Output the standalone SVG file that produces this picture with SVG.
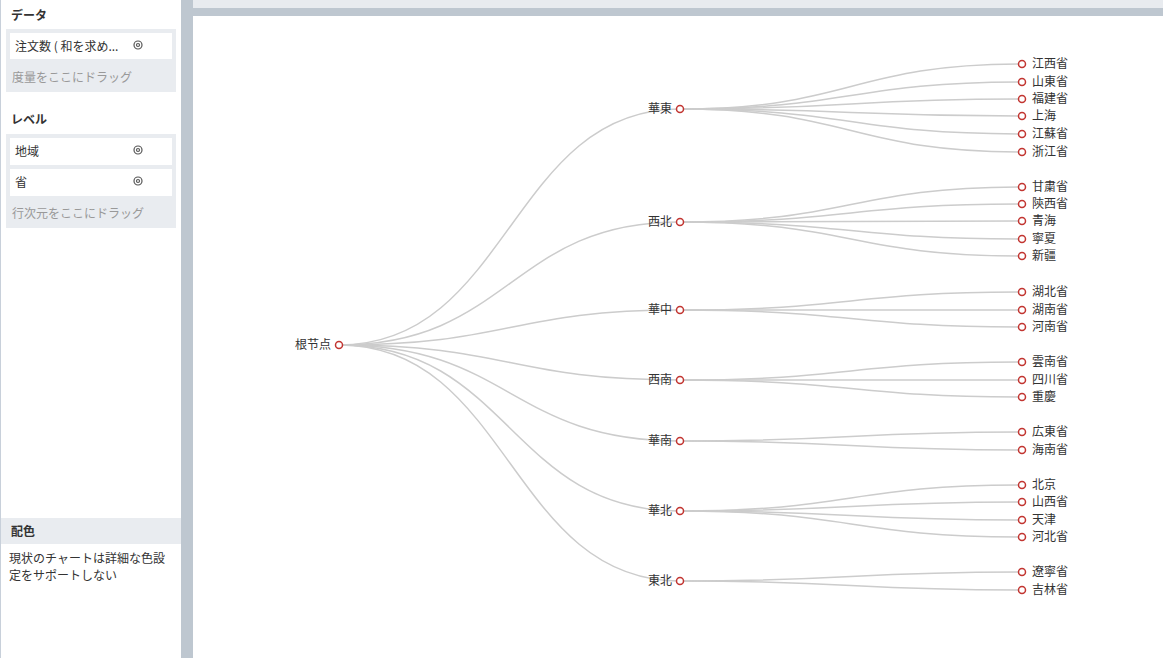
<svg xmlns="http://www.w3.org/2000/svg" width="1163" height="658" viewBox="0 0 1163 658">
<style>
text{font-family:"Noto Sans CJK JP","Liberation Sans",sans-serif;font-size:12px;fill:#333}
.h{font-weight:bold;font-size:12px;fill:#333}
.ph{fill:#999}
.box{fill:#e9ecf0}
.item{fill:#fff}
.l{fill:none;stroke:#ccc;stroke-width:1.5}
.n{fill:#fff;stroke:#c23531;stroke-width:1.5}
.rl{text-anchor:end}
.gear{fill:none;stroke:#555;stroke-width:1.2}
</style>
<rect width="1163" height="658" fill="#fff"/>
<rect x="0" y="0" width="1" height="658" fill="#c8d0da"/>
<rect x="181" y="0" width="12" height="658" fill="#bec7d0"/>
<rect x="193" y="0" width="970" height="8" fill="#e8ebef"/>
<rect x="193" y="8" width="970" height="8" fill="#bec7d0"/>
<g id="panel">
<text class="h" x="11" y="20">データ</text>
<rect class="box" x="6" y="29" width="170" height="63"/>
<rect class="item" x="10" y="33" width="162" height="26"/>
<text x="15" y="51">注文数 ( 和を求め...</text>
<circle class="gear" cx="138" cy="45" r="4"/><circle class="gear" cx="138" cy="45" r="1.5"/>
<text class="ph" x="12" y="82">度量をここにドラッグ</text>
<text class="h" x="11" y="124">レベル</text>
<rect class="box" x="6" y="134" width="170" height="94"/>
<rect class="item" x="10" y="138" width="162" height="27"/>
<text x="15" y="156">地域</text>
<circle class="gear" cx="138" cy="150" r="4"/><circle class="gear" cx="138" cy="150" r="1.5"/>
<rect class="item" x="10" y="169" width="162" height="27"/>
<text x="15" y="187">省</text>
<circle class="gear" cx="138" cy="181" r="4"/><circle class="gear" cx="138" cy="181" r="1.5"/>
<text class="ph" x="12" y="218">行次元をここにドラッグ</text>
<rect class="box" x="1" y="518" width="180" height="26"/>
<text class="h" x="11" y="536">配色</text>
<text x="9" y="563">現状のチャートは詳細な色設</text>
<text x="9" y="580">定をサポートしない</text>
</g>
<g id="connectors">
<path class="l" d="M339 345C510 345 510 109 680 109"/>
<path class="l" d="M339 345C510 345 510 222 680 222"/>
<path class="l" d="M339 345C510 345 510 310 680 310"/>
<path class="l" d="M339 345C510 345 510 380 680 380"/>
<path class="l" d="M339 345C510 345 510 441 680 441"/>
<path class="l" d="M339 345C510 345 510 511 680 511"/>
<path class="l" d="M339 345C510 345 510 581 680 581"/>
<path class="l" d="M680 109C851 109 851 64 1022 64"/>
<path class="l" d="M680 109C851 109 851 82 1022 82"/>
<path class="l" d="M680 109C851 109 851 99 1022 99"/>
<path class="l" d="M680 109C851 109 851 116 1022 116"/>
<path class="l" d="M680 109C851 109 851 134 1022 134"/>
<path class="l" d="M680 109C851 109 851 152 1022 152"/>
<path class="l" d="M680 222C851 222 851 187 1022 187"/>
<path class="l" d="M680 222C851 222 851 204 1022 204"/>
<path class="l" d="M680 222C851 222 851 221 1022 221"/>
<path class="l" d="M680 222C851 222 851 239 1022 239"/>
<path class="l" d="M680 222C851 222 851 256 1022 256"/>
<path class="l" d="M680 310C851 310 851 292 1022 292"/>
<path class="l" d="M680 310C851 310 851 310 1022 310"/>
<path class="l" d="M680 310C851 310 851 327 1022 327"/>
<path class="l" d="M680 380C851 380 851 362 1022 362"/>
<path class="l" d="M680 380C851 380 851 380 1022 380"/>
<path class="l" d="M680 380C851 380 851 397 1022 397"/>
<path class="l" d="M680 441C851 441 851 432 1022 432"/>
<path class="l" d="M680 441C851 441 851 450 1022 450"/>
<path class="l" d="M680 511C851 511 851 485 1022 485"/>
<path class="l" d="M680 511C851 511 851 502 1022 502"/>
<path class="l" d="M680 511C851 511 851 520 1022 520"/>
<path class="l" d="M680 511C851 511 851 537 1022 537"/>
<path class="l" d="M680 581C851 581 851 572 1022 572"/>
<path class="l" d="M680 581C851 581 851 590 1022 590"/>
</g>
<g id="root"><circle class="n" cx="339" cy="345" r="3.5"/><text class="rl" x="331" y="349">根节点</text></g>
<g id="r-huadong"><circle class="n" cx="680" cy="109" r="3.5"/><text class="rl" x="672" y="113">華東</text></g>
<g id="r-xibei"><circle class="n" cx="680" cy="222" r="3.5"/><text class="rl" x="672" y="226">西北</text></g>
<g id="r-huazhong"><circle class="n" cx="680" cy="310" r="3.5"/><text class="rl" x="672" y="314">華中</text></g>
<g id="r-xinan"><circle class="n" cx="680" cy="380" r="3.5"/><text class="rl" x="672" y="384">西南</text></g>
<g id="r-huanan"><circle class="n" cx="680" cy="441" r="3.5"/><text class="rl" x="672" y="445">華南</text></g>
<g id="r-huabei"><circle class="n" cx="680" cy="511" r="3.5"/><text class="rl" x="672" y="515">華北</text></g>
<g id="r-dongbei"><circle class="n" cx="680" cy="581" r="3.5"/><text class="rl" x="672" y="585">東北</text></g>
<g id="leaves">
<g id="l1"><circle class="n" cx="1022" cy="64" r="3.5"/><text x="1032" y="68">江西省</text></g>
<g id="l2"><circle class="n" cx="1022" cy="82" r="3.5"/><text x="1032" y="86">山東省</text></g>
<g id="l3"><circle class="n" cx="1022" cy="99" r="3.5"/><text x="1032" y="103">福建省</text></g>
<g id="l4"><circle class="n" cx="1022" cy="116" r="3.5"/><text x="1032" y="120">上海</text></g>
<g id="l5"><circle class="n" cx="1022" cy="134" r="3.5"/><text x="1032" y="138">江蘇省</text></g>
<g id="l6"><circle class="n" cx="1022" cy="152" r="3.5"/><text x="1032" y="156">浙江省</text></g>
<g id="l7"><circle class="n" cx="1022" cy="187" r="3.5"/><text x="1032" y="191">甘粛省</text></g>
<g id="l8"><circle class="n" cx="1022" cy="204" r="3.5"/><text x="1032" y="208">陝西省</text></g>
<g id="l9"><circle class="n" cx="1022" cy="221" r="3.5"/><text x="1032" y="225">青海</text></g>
<g id="l10"><circle class="n" cx="1022" cy="239" r="3.5"/><text x="1032" y="243">寧夏</text></g>
<g id="l11"><circle class="n" cx="1022" cy="256" r="3.5"/><text x="1032" y="260">新疆</text></g>
<g id="l12"><circle class="n" cx="1022" cy="292" r="3.5"/><text x="1032" y="296">湖北省</text></g>
<g id="l13"><circle class="n" cx="1022" cy="310" r="3.5"/><text x="1032" y="314">湖南省</text></g>
<g id="l14"><circle class="n" cx="1022" cy="327" r="3.5"/><text x="1032" y="331">河南省</text></g>
<g id="l15"><circle class="n" cx="1022" cy="362" r="3.5"/><text x="1032" y="366">雲南省</text></g>
<g id="l16"><circle class="n" cx="1022" cy="380" r="3.5"/><text x="1032" y="384">四川省</text></g>
<g id="l17"><circle class="n" cx="1022" cy="397" r="3.5"/><text x="1032" y="401">重慶</text></g>
<g id="l18"><circle class="n" cx="1022" cy="432" r="3.5"/><text x="1032" y="436">広東省</text></g>
<g id="l19"><circle class="n" cx="1022" cy="450" r="3.5"/><text x="1032" y="454">海南省</text></g>
<g id="l20"><circle class="n" cx="1022" cy="485" r="3.5"/><text x="1032" y="489">北京</text></g>
<g id="l21"><circle class="n" cx="1022" cy="502" r="3.5"/><text x="1032" y="506">山西省</text></g>
<g id="l22"><circle class="n" cx="1022" cy="520" r="3.5"/><text x="1032" y="524">天津</text></g>
<g id="l23"><circle class="n" cx="1022" cy="537" r="3.5"/><text x="1032" y="541">河北省</text></g>
<g id="l24"><circle class="n" cx="1022" cy="572" r="3.5"/><text x="1032" y="576">遼寧省</text></g>
<g id="l25"><circle class="n" cx="1022" cy="590" r="3.5"/><text x="1032" y="594">吉林省</text></g>
</g>
</svg>
